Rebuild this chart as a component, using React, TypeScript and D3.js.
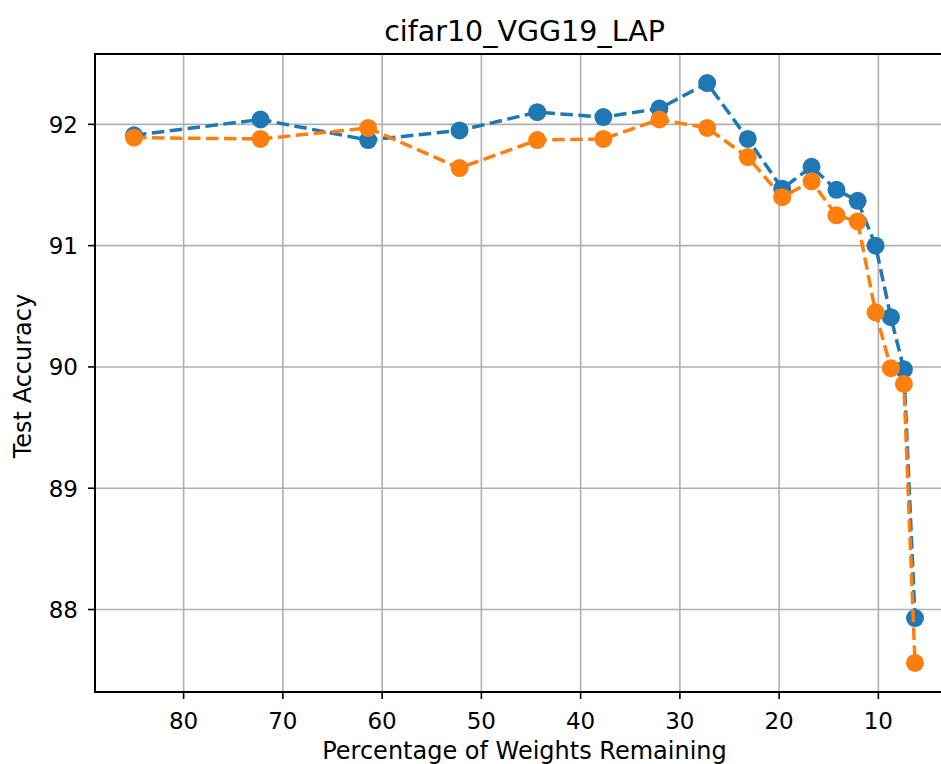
import React from "react";
import * as d3 from "d3";

const TITLE = "cifar10_VGG19_LAP";
const X_LABEL = "Percentage of Weights Remaining";
const Y_LABEL = "Test Accuracy";

const weightsRemaining = [85, 72.25, 61.41, 52.2, 44.37, 37.71, 32.06, 27.25, 23.16, 19.69, 16.73, 14.22, 12.09, 10.28, 8.74, 7.43, 6.31];
const seriesBlue = [91.91, 92.04, 91.87, 91.95, 92.1, 92.06, 92.13, 92.34, 91.88, 91.47, 91.65, 91.46, 91.37, 91.0, 90.41, 89.98, 87.93];
const seriesOrange = [91.89, 91.88, 91.97, 91.64, 91.87, 91.88, 92.04, 91.97, 91.73, 91.4, 91.53, 91.25, 91.2, 90.45, 89.99, 89.86, 87.56];
const xTicks = [80, 70, 60, 50, 40, 30, 20, 10];
const yTicks = [88, 89, 90, 91, 92];

const W = 941;
const H = 764;
const left = 95;
const right = 954;
const top = 54;
const bottom = 692;

export default function App() {
  const x = d3.scaleLinear().domain([88.93, 2.38]).range([left, right]);
  const y = d3.scaleLinear().domain([87.32, 92.58]).range([bottom, top]);
  const font = "'DejaVu Sans', sans-serif";
  const series = [
    { values: seriesBlue, color: "#1f77b4" },
    { values: seriesOrange, color: "#ff7f0e" },
  ];
  const line = d3
    .line<number>()
    .x((_, i) => x(weightsRemaining[i]))
    .y((d) => y(d));

  return (
    <svg
      width={W}
      height={H}
      style={{ position: "absolute", left: 0, top: 0, background: "#fff" }}
      fontFamily={font}
    >
      <rect x={0} y={0} width={W} height={H} fill="#fff" />
      <defs>
        <clipPath id="plotclip">
          <rect x={left} y={top} width={right - left} height={bottom - top} />
        </clipPath>
      </defs>
      {/* grid */}
      {xTicks.map((t) => (
        <line key={"gx" + t} x1={x(t)} x2={x(t)} y1={top} y2={bottom} stroke="#b0b0b0" strokeWidth={1.6} />
      ))}
      {yTicks.map((t) => (
        <line key={"gy" + t} x1={left} x2={right} y1={y(t)} y2={y(t)} stroke="#b0b0b0" strokeWidth={1.6} />
      ))}
      {/* series */}
      <g clipPath="url(#plotclip)">
        {series.map((s, si) => (
          <g key={si}>
            <path d={line(s.values) || ""} fill="none" stroke={s.color} strokeWidth={3.5} strokeDasharray="12.5,5.5" />
            {s.values.map((v, i) => (
              <circle key={i} cx={x(weightsRemaining[i])} cy={y(v)} r={9} fill={s.color} />
            ))}
          </g>
        ))}
      </g>
      {/* frame */}
      <rect x={left} y={top} width={right - left} height={bottom - top} fill="none" stroke="#000" strokeWidth={2} />
      {/* x ticks */}
      {xTicks.map((t) => (
        <g key={"xt" + t}>
          <line x1={x(t)} x2={x(t)} y1={bottom} y2={bottom + 7} stroke="#000" strokeWidth={1.6} />
          <text x={x(t)} y={729} textAnchor="middle" fontSize={23} fill="#000">
            {t}
          </text>
        </g>
      ))}
      {/* y ticks */}
      {yTicks.map((t) => (
        <g key={"yt" + t}>
          <line x1={left - 7} x2={left} y1={y(t)} y2={y(t)} stroke="#000" strokeWidth={1.6} />
          <text x={78} y={y(t)} dy="0.36em" textAnchor="end" fontSize={23} fill="#000">
            {t}
          </text>
        </g>
      ))}
      <text x={(left + right) / 2} y={759} textAnchor="middle" fontSize={24} fill="#000">
        {X_LABEL}
      </text>
      <text
        transform={`translate(31, ${(top + bottom) / 2 + 3}) rotate(-90)`}
        textAnchor="middle"
        fontSize={24}
        fill="#000"
      >
        {Y_LABEL}
      </text>
      <text x={(left + right) / 2} y={41} textAnchor="middle" fontSize={28.5} fill="#000">
        {TITLE}
      </text>
    </svg>
  );
}
